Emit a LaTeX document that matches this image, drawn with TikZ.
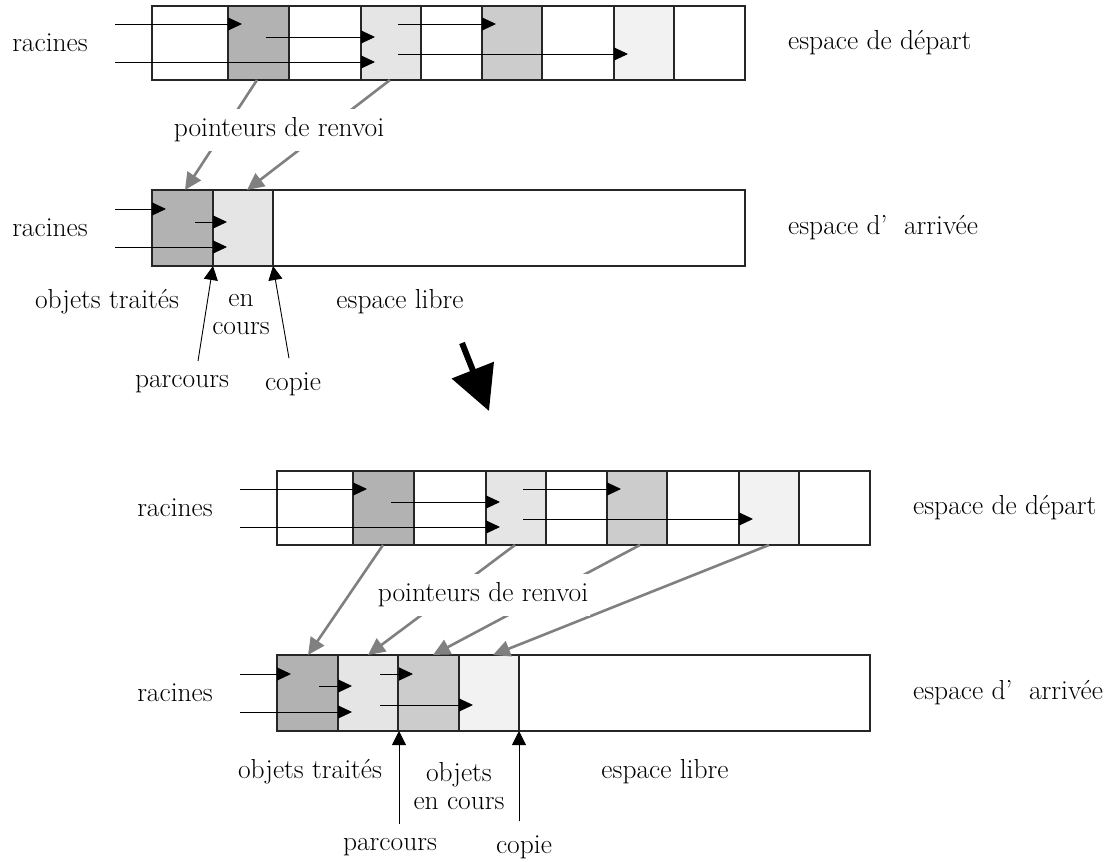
\documentclass[tikz,border=0pt]{standalone}
\usetikzlibrary{arrows.meta}
\definecolor{fillA}{gray}{0.70}
\definecolor{fillB}{gray}{0.90}
\definecolor{fillC}{gray}{0.80}
\definecolor{fillD}{gray}{0.95}
\begin{document}
\begin{tikzpicture}[x=1pt,y=-1pt,
    cell/.style={draw=black!85,line width=1.1pt},
    link/.style={line width=1pt,-{Triangle[length=14pt,width=13pt]}},
    fwd/.style={draw=black!50,line width=2.6pt,-{Triangle[length=17pt,width=16pt]}},
    lbl/.style={font=\fontsize{27.5}{28}\selectfont,inner sep=2pt},
    ptr/.style={line width=0.9pt,-{Triangle[length=14pt,width=14pt]}}]
  \useasboundingbox (0,0) rectangle (1120,862);
  % avant : espace de depart
  \foreach \xa/\xb/\col in {152/228/white,228/289/fillA,289/361/white,361/421/fillB,421/482/white,482/542/fillC,542/614/white,614/674/fillD,674/745/white}
    \draw[cell,fill=\col] (\xa,6) rectangle (\xb,80);
  \draw[link] (115,24) -- (242,24);
  \draw[link] (115,62) -- (375,62);
  \draw[link] (266,37) -- (375,37);
  \draw[link] (398,24) -- (496,24);
  \draw[link] (398,54) -- (628,54);
  \node[lbl] (rac1) at (50,43) {racines};
  \node[lbl,anchor=west] (dep1) at (786,43) {espace de d\'epart};
  % avant : espace d'arrivee
  \foreach \xa/\xb/\col in {152/213/fillA,213/273/fillB,273/745/white}
    \draw[cell,fill=\col] (\xa,190) rectangle (\xb,266);
  \draw[link] (115,209) -- (166,209);
  \draw[link] (195,222) -- (227,222);
  \draw[link] (115,247) -- (227,247);
  \node[lbl] (rac2) at (50,228) {racines};
  \node[lbl,anchor=west] (arr1) at (786,228) {espace d'\ \ arriv\'ee};
  \draw[fwd] (257,80) -- (185,190);
  \draw[fwd] (390,80) -- (247,190);
  \node[lbl,fill=white,inner ysep=9pt] (renv1) at (279,130) {pointeurs de renvoi};
  \node[lbl] (trait1) at (107,302) {objets trait\'es};
  \node[lbl,align=center] (cours1) at (241,315) {en\\cours};
  \node[lbl] (libre1) at (400,302) {espace libre};
  \node[lbl] (parc1) at (182,384) {parcours};
  \node[lbl] (copie1) at (293,384) {copie};
  \draw[ptr] ([xshift=16pt,yshift=12pt]parc1.north) -- (213,266);
  \draw[ptr] ([xshift=-4pt,yshift=12pt]copie1.north) -- (273,266);
  % passage
  \draw[line width=6pt,-{Triangle[length=44pt,width=44pt]}] (462,343) -- (489,411);
  % apres : espace de depart
  \begin{scope}[shift={(125,465)}]
    \foreach \xa/\xb/\col in {152/228/white,228/289/fillA,289/361/white,361/421/fillB,421/482/white,482/542/fillC,542/614/white,614/674/fillD,674/745/white}
      \draw[cell,fill=\col] (\xa,6) rectangle (\xb,80);
    \draw[link] (115,24) -- (242,24);
    \draw[link] (115,62) -- (375,62);
    \draw[link] (266,37) -- (375,37);
    \draw[link] (398,24) -- (496,24);
    \draw[link] (398,54) -- (628,54);
    \node[lbl] (rac3) at (50,43) {racines};
    \node[lbl,anchor=west] (dep2) at (786,43) {espace de d\'epart};
    % apres : espace d'arrivee
    \foreach \xa/\xb/\col in {152/213/fillA,213/273/fillB,273/334/fillC,334/394/fillD,394/745/white}
      \draw[cell,fill=\col] (\xa,190) rectangle (\xb,266);
    \draw[link] (115,209) -- (166,209);
    \draw[link] (194,221) -- (227,221);
    \draw[link] (115,247) -- (227,247);
    \draw[link] (255,209) -- (288,209);
    \draw[link] (255,240) -- (348,240);
    \node[lbl] (rac4) at (50,228) {racines};
    \node[lbl,anchor=west] (arr2) at (786,228) {espace d'\ \ arriv\'ee};
    \draw[fwd] (258,80) -- (183,190);
    \draw[fwd] (390,80) -- (243,190);
    \draw[fwd] (515,80) -- (308,190);
    \draw[fwd] (644,80) -- (368,190);
    \node[lbl,fill=white,inner ysep=9pt] (renv2) at (358,130) {pointeurs de renvoi};
  \end{scope}
  \node[lbl] (trait2) at (310,772) {objets trait\'es};
  \node[lbl,align=center] (cours2) at (459,786) {objets\\en cours};
  \node[lbl] (libre2) at (665,772) {espace libre};
  \node[lbl] (parc2) at (390,847) {parcours};
  \node[lbl] (copie2) at (524,847) {copie};
  \draw[ptr] (parc2.north -| 399,0) ++(0,-12) -- (399,731);
  \draw[ptr] (copie2.north -| 519,0) ++(0,-12) -- (519,731);
\end{tikzpicture}
\end{document}
